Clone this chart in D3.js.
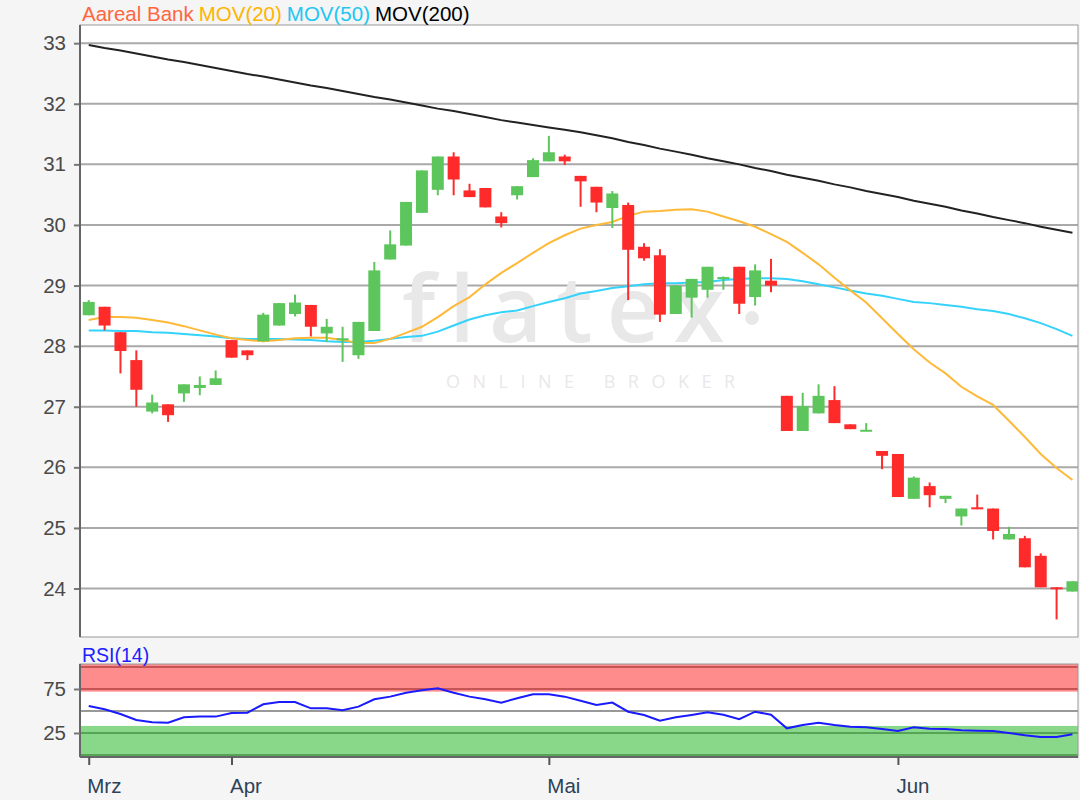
<!DOCTYPE html>
<html>
<head>
<meta charset="utf-8">
<script src="https://cdn.jsdelivr.net/npm/d3@7"></script>
<style>
  body { margin: 0; background: #f5f5f5; }
  svg { display: block; font-family: "Liberation Sans", Arial, sans-serif; }
</style>
</head>
<body>
<svg id="chart" width="1080" height="800"></svg>
<script>
// trading days (Xetra), Mar 19 - Jun 18
const dates = [
  "2019-03-19","2019-03-20","2019-03-21","2019-03-22","2019-03-25","2019-03-26","2019-03-27","2019-03-28","2019-03-29",
  "2019-04-01","2019-04-02","2019-04-03","2019-04-04","2019-04-05","2019-04-08","2019-04-09","2019-04-10","2019-04-11","2019-04-12",
  "2019-04-15","2019-04-16","2019-04-17","2019-04-18","2019-04-23","2019-04-24","2019-04-25","2019-04-26","2019-04-29","2019-04-30",
  "2019-05-02","2019-05-03","2019-05-06","2019-05-07","2019-05-08","2019-05-09","2019-05-10","2019-05-13","2019-05-14","2019-05-15",
  "2019-05-16","2019-05-17","2019-05-20","2019-05-21","2019-05-22","2019-05-23","2019-05-24","2019-05-27","2019-05-28","2019-05-29",
  "2019-05-30","2019-05-31",
  "2019-06-03","2019-06-04","2019-06-05","2019-06-06","2019-06-07","2019-06-10","2019-06-11","2019-06-12","2019-06-13","2019-06-14",
  "2019-06-17","2019-06-18"
];

const opens  = [28.51,28.65,28.23,27.77,26.92,27.04,27.22,27.31,27.36,28.10,27.93,28.08,28.34,28.53,28.68,28.21,28.10,27.85,28.25,29.43,
                29.66,30.20,30.58,31.13,30.57,30.61,30.14,30.49,30.79,31.05,31.13,30.81,30.63,30.28,30.33,29.64,29.50,28.53,28.80,28.93,
                29.11,29.31,28.81,29.08,27.18,26.60,26.89,27.11,26.71,26.60,26.27,26.22,25.48,25.69,25.48,25.19,25.34,25.32,24.81,24.83,
                24.54,24.02,23.95];
const highs  = [28.76,28.65,28.23,27.93,27.20,27.04,27.37,27.50,27.60,28.10,27.93,28.55,28.71,28.85,28.68,28.45,28.32,28.40,29.39,29.91,
                30.38,30.90,31.13,31.20,30.68,30.61,30.21,30.64,31.10,31.47,31.16,30.81,30.63,30.56,30.37,29.70,29.60,29.00,29.11,29.31,
                29.15,29.31,29.35,29.44,27.18,27.23,27.37,27.34,26.71,26.73,26.27,26.22,25.85,25.75,25.53,25.32,25.55,25.32,25.02,24.87,
                24.58,24.02,24.12];
const lows   = [28.51,28.26,27.55,27.00,26.89,26.75,27.08,27.19,27.36,27.81,27.77,28.08,28.34,28.49,28.16,28.07,27.74,27.79,28.25,29.43,
                29.66,30.20,30.49,30.49,30.46,30.29,29.96,30.42,30.79,31.05,30.99,30.30,30.21,29.95,28.76,29.41,28.40,28.53,28.47,28.80,
                28.93,28.53,28.67,28.89,26.60,26.60,26.89,26.73,26.63,26.60,25.97,25.51,25.48,25.34,25.41,25.04,25.31,24.81,24.81,24.35,
                24.02,23.49,23.95];
const closes = [28.73,28.34,27.92,27.28,27.07,26.86,27.37,27.36,27.47,27.81,27.85,28.52,28.71,28.72,28.32,28.32,28.13,28.40,29.25,29.68,
                30.38,30.90,31.13,30.75,30.46,30.29,30.03,30.64,31.07,31.20,31.05,30.72,30.37,30.52,29.59,29.45,28.52,29.00,29.11,29.31,
                29.14,28.70,29.25,29.00,26.60,27.01,27.18,26.73,26.63,26.62,26.19,25.51,25.83,25.54,25.53,25.32,25.31,24.95,24.90,24.35,
                24.02,24.00,24.12];

const mov20  = [28.43,28.48,28.48,28.47,28.43,28.39,28.33,28.26,28.19,28.13,28.10,28.08,28.10,28.13,28.14,28.14,28.10,28.05,28.05,28.12,
                28.22,28.32,28.48,28.66,28.81,29.02,29.21,29.37,29.54,29.70,29.83,29.94,30.00,30.05,30.15,30.22,30.23,30.25,30.26,30.22,
                30.14,30.06,29.97,29.85,29.72,29.54,29.35,29.13,28.92,28.72,28.46,28.20,27.95,27.73,27.55,27.33,27.17,27.03,26.77,26.50,
                26.22,25.99,25.79];
const mov50  = [28.26,28.26,28.25,28.25,28.23,28.22,28.20,28.18,28.16,28.13,28.12,28.12,28.12,28.11,28.10,28.08,28.07,28.07,28.09,28.12,
                28.15,28.17,28.24,28.34,28.44,28.51,28.56,28.59,28.66,28.73,28.79,28.87,28.91,28.96,28.99,29.02,29.04,29.04,29.05,29.06,
                29.09,29.11,29.12,29.12,29.11,29.07,29.02,28.97,28.92,28.87,28.83,28.78,28.73,28.71,28.68,28.65,28.61,28.58,28.53,28.46,
                28.38,28.28,28.17];
const mov200 = [32.97,32.92,32.88,32.83,32.78,32.73,32.69,32.64,32.59,32.54,32.49,32.45,32.40,32.35,32.30,32.26,32.21,32.16,32.11,32.07,
                32.02,31.97,31.92,31.88,31.83,31.78,31.73,31.69,31.65,31.61,31.57,31.53,31.48,31.43,31.37,31.32,31.26,31.21,31.16,31.10,
                31.05,31.00,30.94,30.89,30.83,30.78,30.73,30.67,30.62,30.56,30.51,30.46,30.40,30.35,30.30,30.24,30.19,30.13,30.08,30.03,
                29.97,29.92,29.87];
const rsi14  = [55.7,51.9,46.6,39.8,37.1,36.7,42.8,43.6,43.6,47.7,48.1,57.6,60.2,60.2,53.0,53.0,50.8,54.9,63.3,66.3,
                70.8,73.5,75.7,70.8,66.3,63.3,59.5,64.4,68.9,68.9,66.3,61.7,56.8,59.5,49.2,45.5,39.0,42.8,45.5,48.5,
                45.8,40.6,49.2,45.8,30.3,34.1,36.7,34.1,32.2,31.4,29.5,27.3,31.4,29.9,29.5,28.0,27.6,27.3,25.0,22.3,
                20.5,20.5,23.5];

const priceTicks = [24,25,26,27,28,29,30,31,32,33];
const rsiTicks = [25,75];
const rsiGrid = [0,25,50,75,100];
const monthLabels = ["Mrz","Apr","Mai","Jun"];

const W = 1080, H = 800;
const main = {left: 80, right: 1078, top: 25, bottom: 637};
const sub = {top: 664, bottom: 757};
const fs = 20.5;

const svg = d3.select("#chart");
svg.append("rect").attr("width", W).attr("height", H).attr("fill", "#f5f5f5");

const idx = d3.range(dates.length);
const x = d3.scaleLinear().domain([-0.55, 62.35]).range([main.left, main.right]);
const y = d3.scaleLinear().domain([23.2, 33.3]).range([main.bottom, main.top]);
const yr = d3.scaleLinear().domain([-2.3, 103.4]).range([sub.bottom, sub.top]);

// ---- main panel
svg.append("rect")
  .attr("x", main.left).attr("y", main.top)
  .attr("width", main.right - main.left).attr("height", main.bottom - main.top)
  .attr("fill", "#fff");

svg.append("clipPath").attr("id", "clipMain").append("rect")
  .attr("x", main.left).attr("y", main.top)
  .attr("width", main.right - main.left).attr("height", main.bottom - main.top);

svg.append("g").selectAll("line").data(priceTicks).join("line")
  .attr("x1", main.left).attr("x2", main.right)
  .attr("y1", d => y(d)).attr("y2", d => y(d))
  .attr("stroke", "#a9a9a9").attr("stroke-width", 2);

// watermark
const wm = svg.append("g").attr("fill", "#e8e8e8");
wm.append("text").attr("x", 402).attr("y", 342)
  .attr("font-family", "'Open Sans', sans-serif").attr("font-size", 92).attr("font-weight", 600)
  .attr("letter-spacing", 14).text("flatex");
wm.append("circle").attr("cx", 752).attr("cy", 318).attr("r", 7);
wm.append("text").attr("x", 446).attr("y", 388)
  .attr("font-family", "'Open Sans', sans-serif").attr("font-size", 18)
  .attr("letter-spacing", 12.5).text("ONLINE BROKER");

const yAxis = svg.append("g").attr("transform", `translate(${main.left},0)`)
  .call(d3.axisLeft(y).tickValues(priceTicks).tickSize(6).tickPadding(8).tickFormat(d3.format("d")));
yAxis.select(".domain").remove();
yAxis.selectAll("line").attr("stroke", "#777").attr("stroke-width", 2);
yAxis.selectAll("text").attr("font-size", fs).attr("fill", "#4a4a4a")
  .attr("font-family", "'Liberation Sans', Arial, sans-serif");

const plotG = svg.append("g").attr("clip-path", "url(#clipMain)");

const lineOf = arr => d3.line().x(i => x(i)).y(i => y(arr[i]));
[[mov200, "#222"], [mov50, "#35d3fb"], [mov20, "#ffb938"]].forEach(([arr, c]) => {
  plotG.append("path").attr("d", lineOf(arr)(idx))
    .attr("fill", "none").attr("stroke", c).attr("stroke-width", 2);
});

const green = "#5cc65c", red = "#ff2b2b";
const bodyW = 12;
const candles = plotG.append("g").selectAll("g").data(idx).join("g")
  .attr("fill", i => closes[i] >= opens[i] ? green : red)
  .attr("stroke", i => closes[i] >= opens[i] ? green : red);
candles.append("line")
  .attr("x1", i => x(i)).attr("x2", i => x(i))
  .attr("y1", i => y(highs[i])).attr("y2", i => y(lows[i]))
  .attr("stroke-width", 2);
candles.append("rect")
  .attr("x", i => x(i) - bodyW / 2).attr("width", bodyW)
  .attr("y", i => y(Math.max(opens[i], closes[i])))
  .attr("height", i => Math.max(2, Math.abs(y(opens[i]) - y(closes[i]))))
  .attr("stroke", "none");

svg.append("rect")
  .attr("x", main.left).attr("y", main.top)
  .attr("width", main.right - main.left).attr("height", main.bottom - main.top)
  .attr("fill", "none").attr("stroke", "#999").attr("stroke-width", 1);
svg.append("line").attr("x1", main.left).attr("x2", main.left)
  .attr("y1", main.top).attr("y2", main.bottom).attr("stroke", "#666").attr("stroke-width", 2);

// title / legend
const title = svg.append("text").attr("x", 82).attr("y", 21).attr("font-size", fs);
[["Aareal Bank", "#ff6640"], ["MOV(20)", "#ffb400"], ["MOV(50)", "#22c6f2"], ["MOV(200)", "#000"]]
  .forEach(([t, c], k) => title.append("tspan").attr("dx", k ? 5 : 0).attr("fill", c).text(t));

// ---- RSI panel
svg.append("rect")
  .attr("x", main.left).attr("y", sub.top)
  .attr("width", main.right - main.left).attr("height", sub.bottom - sub.top)
  .attr("fill", "#fff");
svg.append("g").selectAll("line").data(rsiGrid).join("line")
  .attr("x1", main.left).attr("x2", main.right)
  .attr("y1", d => yr(d)).attr("y2", d => yr(d))
  .attr("stroke", "#999").attr("stroke-width", 2);
svg.append("rect").attr("x", main.left).attr("width", main.right - main.left)
  .attr("y", yr(103.4)).attr("height", yr(72) - yr(103.4))
  .attr("fill", "rgb(255,0,0)").attr("fill-opacity", 0.45);
svg.append("rect").attr("x", main.left).attr("width", main.right - main.left)
  .attr("y", yr(33)).attr("height", yr(-2.3) - yr(33))
  .attr("fill", "rgb(20,175,20)").attr("fill-opacity", 0.5);

svg.append("path")
  .attr("d", d3.line().x(i => x(i)).y(i => yr(rsi14[i]))(idx))
  .attr("fill", "none").attr("stroke", "#1a1aff").attr("stroke-width", 2);

svg.append("rect")
  .attr("x", main.left).attr("y", sub.top)
  .attr("width", main.right - main.left).attr("height", sub.bottom - sub.top)
  .attr("fill", "none").attr("stroke", "#999").attr("stroke-width", 1);
svg.append("line").attr("x1", main.left).attr("x2", main.left)
  .attr("y1", sub.top).attr("y2", sub.bottom).attr("stroke", "#666").attr("stroke-width", 2);
svg.append("line").attr("x1", main.left).attr("x2", main.right)
  .attr("y1", sub.bottom).attr("y2", sub.bottom).attr("stroke", "#666").attr("stroke-width", 2);

const rAxis = svg.append("g").attr("transform", `translate(${main.left},0)`)
  .call(d3.axisLeft(yr).tickValues(rsiTicks).tickSize(6).tickPadding(8));
rAxis.select(".domain").remove();
rAxis.selectAll("line").attr("stroke", "#777").attr("stroke-width", 2);
rAxis.selectAll("text").attr("font-size", fs).attr("fill", "#4a4a4a")
  .attr("font-family", "'Liberation Sans', Arial, sans-serif");

svg.append("text").attr("x", 82).attr("y", 662).attr("font-size", 19.5)
  .attr("fill", "#2020ff").text("RSI(14)");

// month ticks
const monthIdx = idx.filter(i => i === 0 || dates[i].slice(5, 7) !== dates[i - 1].slice(5, 7));
const xAxis = svg.append("g").attr("transform", `translate(0,${sub.bottom})`)
  .call(d3.axisBottom(x).tickValues(monthIdx).tickSize(8).tickFormat((d, k) => monthLabels[k]));
xAxis.select(".domain").remove();
xAxis.selectAll("line").attr("stroke", "#555").attr("stroke-width", 2);
xAxis.selectAll("text").attr("font-size", fs).attr("fill", "#2d4258")
  .attr("text-anchor", "start").attr("dx", -2).attr("y", 21)
  .attr("font-family", "'Liberation Sans', Arial, sans-serif");
</script>
</body>
</html>
